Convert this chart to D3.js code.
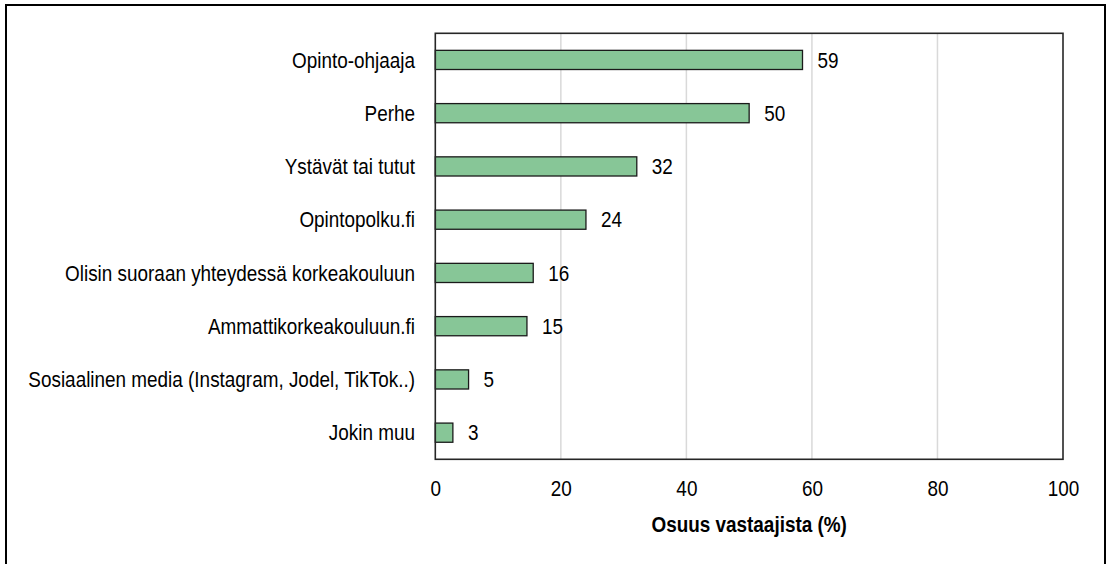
<!DOCTYPE html>
<html>
<head>
<meta charset="utf-8">
<script src="https://cdn.jsdelivr.net/npm/d3@7"></script>
<style>
  html, body { margin: 0; padding: 0; background: #fff; }
  svg { display: block; }
  text { font-family: "Liberation Sans", Arial, sans-serif; fill: #000; }
</style>
</head>
<body>
<svg id="chart" width="1107" height="564"></svg>
<script>
// ---- data ----
const categories = [
  "Opinto-ohjaaja",
  "Perhe",
  "Ystävät tai tutut",
  "Opintopolku.fi",
  "Olisin suoraan yhteydessä korkeakouluun",
  "Ammattikorkeakouluun.fi",
  "Sosiaalinen media (Instagram, Jodel, TikTok..)",
  "Jokin muu"
];
const values = [58.5, 50.0, 32.1, 24.0, 15.6, 14.6, 5.3, 2.8];
const valueLabels = ["59", "50", "32", "24", "16", "15", "5", "3"];
const xTicks = [0, 20, 40, 60, 80, 100];
const xTitle = "Osuus vastaajista (%)";

// ---- layout ----
const W = 1107, H = 564;
const plot = { left: 435.3, top: 33.3, right: 1063, bottom: 459.3 };
const fontSize = 22, sx = 0.86;

const svg = d3.select("#chart");

// outer frame
svg.append("rect")
  .attr("x", 6).attr("y", 5)
  .attr("width", 1099).attr("height", 620)
  .attr("fill", "none").attr("stroke", "#000").attr("stroke-width", 2);

const x = d3.scaleLinear().domain([0, 100]).range([plot.left, plot.right]);
const y = d3.scaleBand().domain(categories).range([plot.top, plot.bottom]).paddingInner(0.64).paddingOuter(0.32);

// gridlines
svg.append("g").selectAll("line")
  .data(xTicks.filter(t => t > 0 && t < 100))
  .join("line")
  .attr("x1", d => x(d)).attr("x2", d => x(d))
  .attr("y1", plot.top).attr("y2", plot.bottom)
  .attr("stroke", "#d9d9d9").attr("stroke-width", 1.5);

// bars
svg.append("g").selectAll("rect")
  .data(categories)
  .join("rect")
  .attr("x", x(0))
  .attr("y", d => y(d))
  .attr("width", (d, i) => x(values[i]) - x(0))
  .attr("height", y.bandwidth())
  .attr("fill", "#87c697")
  .attr("stroke", "#1a1a1a").attr("stroke-width", 1.3);

// plot frame
svg.append("rect")
  .attr("x", plot.left).attr("y", plot.top)
  .attr("width", plot.right - plot.left).attr("height", plot.bottom - plot.top)
  .attr("fill", "none").attr("stroke", "#262626").attr("stroke-width", 1.6);

// helper for horizontally condensed text
function label(parent, tx, ty, str, anchor, weight) {
  const g = parent.append("g").attr("transform", `translate(${tx},${ty}) scale(${sx},1)`);
  g.append("text")
    .attr("text-anchor", anchor)
    .attr("font-size", fontSize)
    .attr("font-weight", weight || "normal")
    .text(str);
  return g;
}

// category labels
const catG = svg.append("g");
categories.forEach((c, i) => {
  label(catG, 415, y(c) + y.bandwidth() / 2 + 7.8, c, "end");
});

// value labels
const valG = svg.append("g");
categories.forEach((c, i) => {
  label(valG, x(values[i]) + 15, y(c) + y.bandwidth() / 2 + 7.8, valueLabels[i], "start");
});

// x axis (tick labels only)
const xAxis = svg.append("g")
  .attr("transform", `translate(0,${plot.bottom})`)
  .call(d3.axisBottom(x).tickValues(xTicks).tickSize(0).tickPadding(0).tickFormat(d3.format("d")));
xAxis.select(".domain").remove();
xAxis.selectAll(".tick text")
  .attr("y", 0).attr("dy", 36.3)
  .attr("font-size", fontSize)
  .attr("font-family", "'Liberation Sans', Arial, sans-serif")
  .attr("fill", "#000")
  .attr("transform", `scale(${sx},1)`);

// x axis title
label(svg, (plot.left + plot.right) / 2, 531.5, xTitle, "middle", "bold");
</script>
</body>
</html>
